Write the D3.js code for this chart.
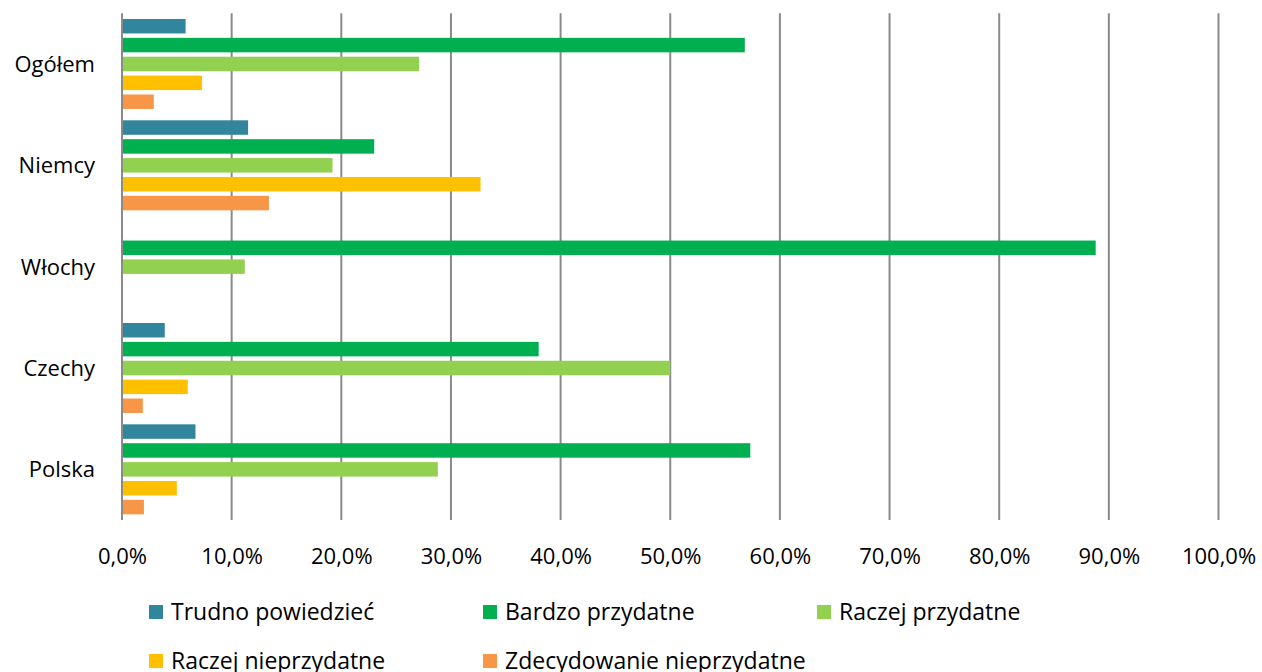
<!DOCTYPE html>
<html>
<head>
<meta charset="utf-8">
<script src="https://cdn.jsdelivr.net/npm/d3@7"></script>
<style>
  html, body { margin: 0; padding: 0; background: #fff; }
  svg { display: block; font-family: "Open Sans", sans-serif; }
</style>
</head>
<body>
<div id="chart"></div>
<script>
(function () {
  // categories, top to bottom
  const categories = ["Ogółem", "Niemcy", "Włochy", "Czechy", "Polska"];

  const seriesNames = [
    "Trudno powiedzieć",
    "Bardzo przydatne",
    "Raczej przydatne",
    "Raczej nieprzydatne",
    "Zdecydowanie nieprzydatne"
  ];
  const seriesColors = ["#31859C", "#00B050", "#92D050", "#FFC000", "#F79646"];

  // values in %, one array per series (order follows categories)
  const trudno       = [5.8, 11.5, 0, 3.9, 6.7];
  const bardzo       = [56.8, 23.0, 88.8, 38.0, 57.3];
  const raczejPrzyd  = [27.1, 19.2, 11.2, 50.0, 28.8];
  const raczejNie    = [7.3, 32.7, 0, 6.0, 5.0];
  const zdecydowanie = [2.9, 13.4, 0, 1.9, 2.0];

  const seriesValues = [trudno, bardzo, raczejPrzyd, raczejNie, zdecydowanie];

  const xTicks = [0, 10, 20, 30, 40, 50, 60, 70, 80, 90, 100];

  const width = 1262, height = 672;
  const plot = { left: 122, right: 1218.5, top: 13.3, bottom: 520 };

  const svg = d3.select("#chart").append("svg")
    .attr("width", width)
    .attr("height", height);

  const x = d3.scaleLinear().domain([0, 100]).range([plot.left, plot.right]);

  const y0 = d3.scaleBand()
    .domain(categories)
    .range([plot.top, plot.bottom]);

  const y1 = d3.scaleBand()
    .domain(seriesNames)
    .range([0, y0.bandwidth()])
    .paddingInner(0.233)
    .paddingOuter(0.3);

  const pl = d3.formatLocale({ decimal: ",", thousands: " ", grouping: [3], currency: ["", " zł"] });
  const fmt = pl.format(".1f");

  // gridlines
  svg.append("g")
    .selectAll("line")
    .data(xTicks)
    .join("line")
    .attr("x1", d => x(d)).attr("x2", d => x(d))
    .attr("y1", plot.top).attr("y2", plot.bottom)
    .attr("stroke", "#8a8a8a")
    .attr("stroke-width", 2);

  // bars
  const rows = [];
  categories.forEach((c, ci) => {
    seriesNames.forEach((s, si) => {
      rows.push({ cat: c, series: s, color: seriesColors[si], value: seriesValues[si][ci] });
    });
  });

  svg.append("g")
    .selectAll("rect")
    .data(rows.filter(d => d.value > 0))
    .join("rect")
    .attr("x", x(0) + 1)
    .attr("y", d => y0(d.cat) + y1(d.series))
    .attr("width", d => x(d.value) - x(0) - 1)
    .attr("height", y1.bandwidth())
    .attr("fill", d => d.color);

  // x axis labels
  const xAxis = d3.axisBottom(x)
    .tickValues(xTicks)
    .tickSize(0)
    .tickPadding(0)
    .tickFormat(d => fmt(d) + "%");

  const gx = svg.append("g")
    .attr("transform", `translate(0, ${plot.bottom})`)
    .call(xAxis);
  gx.select(".domain").remove();
  gx.selectAll("text")
    .attr("y", 44)
    .attr("dy", 0)
    .style("font-family", "'Open Sans', sans-serif")
    .style("font-size", "22px")
    .attr("fill", "#000");

  // category labels
  svg.append("g")
    .selectAll("text")
    .data(categories)
    .join("text")
    .attr("x", 95)
    .attr("y", d => y0(d) + y0.bandwidth() / 2 + 8)
    .attr("text-anchor", "end")
    .style("font-size", "22px")
    .attr("fill", "#000")
    .text(d => d);

  // legend
  const legendPos = [
    { x: 149, y: 612 }, { x: 483, y: 612 }, { x: 817, y: 612 },
    { x: 149, y: 661 }, { x: 483, y: 661 }
  ];

  const lg = svg.append("g")
    .selectAll("g")
    .data(seriesNames)
    .join("g")
    .attr("transform", (d, i) => `translate(${legendPos[i].x}, ${legendPos[i].y})`);

  lg.append("rect")
    .attr("x", 0).attr("y", -7)
    .attr("width", 14).attr("height", 14)
    .attr("fill", (d, i) => seriesColors[i]);

  lg.append("text")
    .attr("x", 22)
    .attr("y", 8)
    .style("font-size", "23px")
    .attr("fill", "#000")
    .text(d => d);
})();
</script>
</body>
</html>
